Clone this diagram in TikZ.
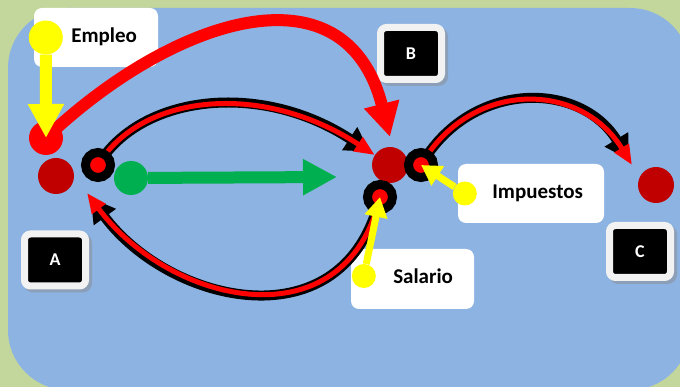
\documentclass[tikz,border=0pt]{standalone}
\usepackage{fontspec}
\setmainfont{Carlito}
\usetikzlibrary{arrows.meta, shadows}

\definecolor{bgGreen}{HTML}{C3D69B}
\definecolor{paneBlue}{HTML}{8DB3E2}
\definecolor{darkRed}{HTML}{C00000}
\definecolor{brightRed}{HTML}{FF0000}
\definecolor{leafGreen}{HTML}{00B050}
\definecolor{signYellow}{HTML}{FFFF00}
\definecolor{frameGray}{HTML}{F2F2F2}
\definecolor{shadowGray}{HTML}{8C9AAE}

\pgfdeclarelayer{pane}
\pgfdeclarelayer{wires}
\pgfsetlayers{pane,wires,main}

\begin{document}
\begin{tikzpicture}[
    x=1pt, y=-1pt,
    textbox/.style={rectangle, rounded corners=8pt, fill=white, minimum height=59pt, inner xsep=21pt, align=right, text height=14pt, text depth=4pt, font=\fontsize{21}{25}\selectfont\bfseries},
    tag/.style={rectangle, rounded corners=6pt, fill=black, draw=frameGray, line width=7pt, minimum width=61pt, minimum height=52pt, text=white, font=\fontsize{18}{20}\selectfont\bfseries, drop shadow={shadow xshift=3pt, shadow yshift=-3pt, fill=shadowGray, draw=shadowGray, line width=7pt, opacity=0.8}},
    spot/.style={circle, inner sep=0pt, minimum size=36pt},
    ring/.style={circle, inner sep=0pt, minimum size=25pt, fill=brightRed, draw=black, line width=9pt},
    pin/.style={circle, inner sep=0pt, fill=signYellow},
    fatArrow/.style={line width=12pt, -{Triangle[length=34pt, width=34pt]}},
    thinArrow/.style={line width=7pt, signYellow, -{Triangle[length=20pt, width=22pt]}},
    wireBack/.style={draw=black, line width=10pt, shorten >=6pt, -{Triangle[length=24pt, width=26pt]}},
    wireFront/.style={draw=brightRed, line width=5pt, -{Triangle[length=20pt, width=16pt]}}
]
\useasboundingbox (0,0) rectangle (680,387);

% Background and labels
\begin{pgfonlayer}{pane}
\fill[bgGreen] (0,0) rectangle (680,387);
\fill[paneBlue, rounded corners=60pt] (8,8) rectangle (690,390);

\node[textbox, text width=82pt] (empBox) at (96,37.5) {Empleo};
\node[textbox, text width=104pt] (impBox) at (531,193.5) {Impuestos};
\node[textbox, text width=81pt, minimum height=60pt] (salBox) at (412.5,279) {Salario};

\node[tag] (tagA) at (55,260) {A};
\node[tag] (tagB) at (411,53.5) {B};
\node[tag] (tagC) at (640,251.5) {C};
\end{pgfonlayer}

% Points
\node[spot, minimum size=34pt, fill=brightRed] (redA) at (46,138) {};
\node[spot, fill=darkRed] (darkA) at (56,176) {};
\node[ring] (ringA) at (98,165) {};
\node[spot, minimum size=34pt, fill=leafGreen] (greenA) at (131,178) {};
\node[spot, fill=darkRed] (darkB) at (390,165) {};
\node[ring] (ringB) at (421,165) {};
\node[ring] (ringS) at (380,197) {};
\node[spot, fill=darkRed] (darkC) at (656,185) {};

\coordinate (bigTip) at (390,137);
\coordinate (lowTip) at (87,193);
\coordinate (rightTip) at (632,165);
\coordinate (greenTip) at (337,177);

% Flows
\begin{pgfonlayer}{wires}
\draw[fatArrow, brightRed] (redA.center) .. controls (170,20) and (345,-40) .. (bigTip);
\foreach \w in {wireBack,wireFront} {
  \draw[\w] (ringA.center) .. controls (140,95) and (260,80) .. (darkB);
  \draw[\w] (ringS.center) .. controls (345,345) and (170,305) .. (lowTip);
  \draw[\w] (ringB.center) .. controls (470,80) and (580,80) .. (rightTip);
}
\end{pgfonlayer}

\draw[fatArrow, leafGreen] (greenA) -- (greenTip);

% Pointers
\node[pin, minimum size=34pt] (empPin) at ([xshift=12pt]empBox.west) {};
\node[pin, minimum size=24pt] (impPin) at ([xshift=7pt]impBox.west) {};
\node[pin, minimum size=24pt] (salPin) at ([xshift=13pt, yshift=3pt]salBox.west) {};

\draw[fatArrow, signYellow] (empPin) -- (redA.center);
\draw[thinArrow] (impPin) -- (ringB.center);
\draw[thinArrow] (salPin) -- (ringS.center);

\end{tikzpicture}
\end{document}
